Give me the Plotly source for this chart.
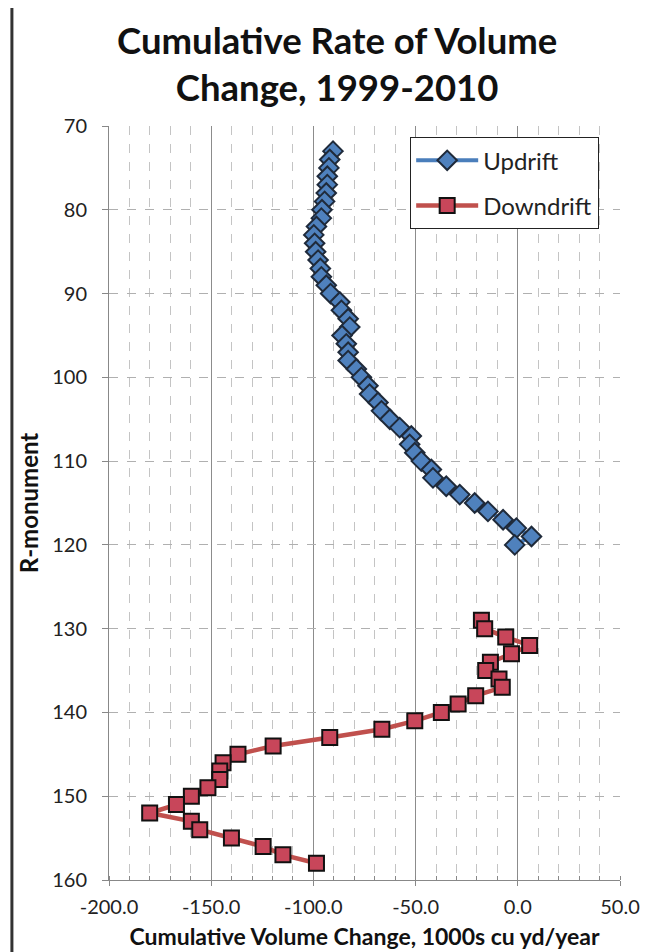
import plotly.graph_objects as go

# Updrift: R-monument 73..120
up_r = list(range(73, 121))
up_x = [-90.4, -92.0, -92.4, -93.2, -93.2, -93.7, -94.5, -95.8, -96.1, -98.5,
        -99.8, -99.4, -98.9, -97.7, -96.6, -96.1, -93.7, -91.6, -87.1, -86.3,
        -83.0, -82.2, -86.0, -83.9, -83.0, -83.0, -79.0, -76.5, -73.3, -72.5,
        -68.4, -66.7, -62.6, -57.8, -52.1, -52.9, -50.4, -47.2, -42.3, -41.5,
        -35.0, -28.4, -21.1, -14.6, -7.2, -0.7, 6.7, -1.5]

# Downdrift: R-monument 129..158
down_r = list(range(129, 159))
down_x = [-17.8, -16.2, -5.9, 5.8, -3.1, -13.4, -15.7, -9.2, -7.6, -20.6,
          -29.2, -37.4, -50.4, -66.5, -92.0, -119.7, -136.9, -144.2, -145.8, -145.8,
          -151.6, -159.7, -167.0, -180.1, -159.7, -155.6, -140.1, -124.6, -114.9, -98.5]

x_ticks = [-200, -150, -100, -50, 0, 50]
x_ticktext = [f"{v:.1f}" for v in x_ticks]
y_ticks = [70, 80, 90, 100, 110, 120, 130, 140, 150, 160]

FONT = "Lato"

fig = go.Figure()
fig.add_trace(go.Scatter(
    x=up_x, y=up_r, mode="lines+markers", name="Updrift", legendgroup="a",
    line=dict(color="#4A7EBB", width=4),
    marker=dict(symbol="diamond", size=15, color="#4F81BD",
                line=dict(color="#1F2A3A", width=2)),
))
fig.add_trace(go.Scatter(
    x=down_x, y=down_r, mode="lines+markers", name="Downdrift", legendgroup="b",
    line=dict(color="#C0504D", width=4.5),
    marker=dict(symbol="square", size=15, color="#C8465A",
                line=dict(color="#111111", width=2)),
))

fig.update_layout(
    width=651, height=944,
    paper_bgcolor="white", plot_bgcolor="white",
    margin=dict(l=101, r=39, t=118, b=72),
    font=dict(family=FONT, color="#222222"),
    showlegend=True,
    legend=dict(x=0.589, y=0.9854, xanchor="left", yanchor="top",
                bgcolor="white", bordercolor="#222222", borderwidth=1.2,
                font=dict(size=24, family=FONT, color="#222222"),
                traceorder="grouped", tracegroupgap=11, itemwidth=62),
    xaxis=dict(range=[-200, 50], tickvals=x_ticks, ticktext=x_ticktext,
               automargin=False,
               showgrid=True, gridcolor="#8C8C8C", gridwidth=1,
               minor=dict(dtick=10, showgrid=True, gridcolor="#C4C4C4",
                          griddash="dash", gridwidth=1, ticks="inside", ticklen=4,
                          tickcolor="#888888"),
               showline=True, linecolor="#888888", linewidth=1,
               ticks="outside", ticklen=5, tickcolor="#888888",
               ticklabelstandoff=4,
               zeroline=False, tickfont=dict(size=20, color="#222222"),
               title=dict(text="<b>Cumulative Volume Change, 1000s cu yd/year</b>",
                          font=dict(size=23, color="#111111"), standoff=11)),
    yaxis=dict(range=[160, 70], tickvals=y_ticks,
               automargin=False,
               showgrid=True, gridcolor="#B0B0B0", griddash="dash", gridwidth=1,
               showline=True, linecolor="#888888", linewidth=1,
               ticks="outside", ticklen=6, tickcolor="#888888",
               ticklabelstandoff=11,
               zeroline=False, tickfont=dict(size=20, color="#222222"),
               title=dict(text="<b>R-monument</b>",
                          font=dict(size=24, color="#111111"), standoff=6)),
    annotations=[dict(text="<b>Cumulative Rate of Volume<br>Change, 1999-2010</b>",
                      xref="paper", yref="paper", x=0.446, y=1.0835,
                      xanchor="center", yanchor="middle", showarrow=False,
                      font=dict(size=36.5, family=FONT, color="#111111"))],
    shapes=[dict(type="line", xref="paper", yref="paper",
                 x0=-0.19, x1=-0.19, y0=-0.12, y1=1.2,
                 line=dict(color="#333333", width=3))],
)

fig.write_html("out.html")
